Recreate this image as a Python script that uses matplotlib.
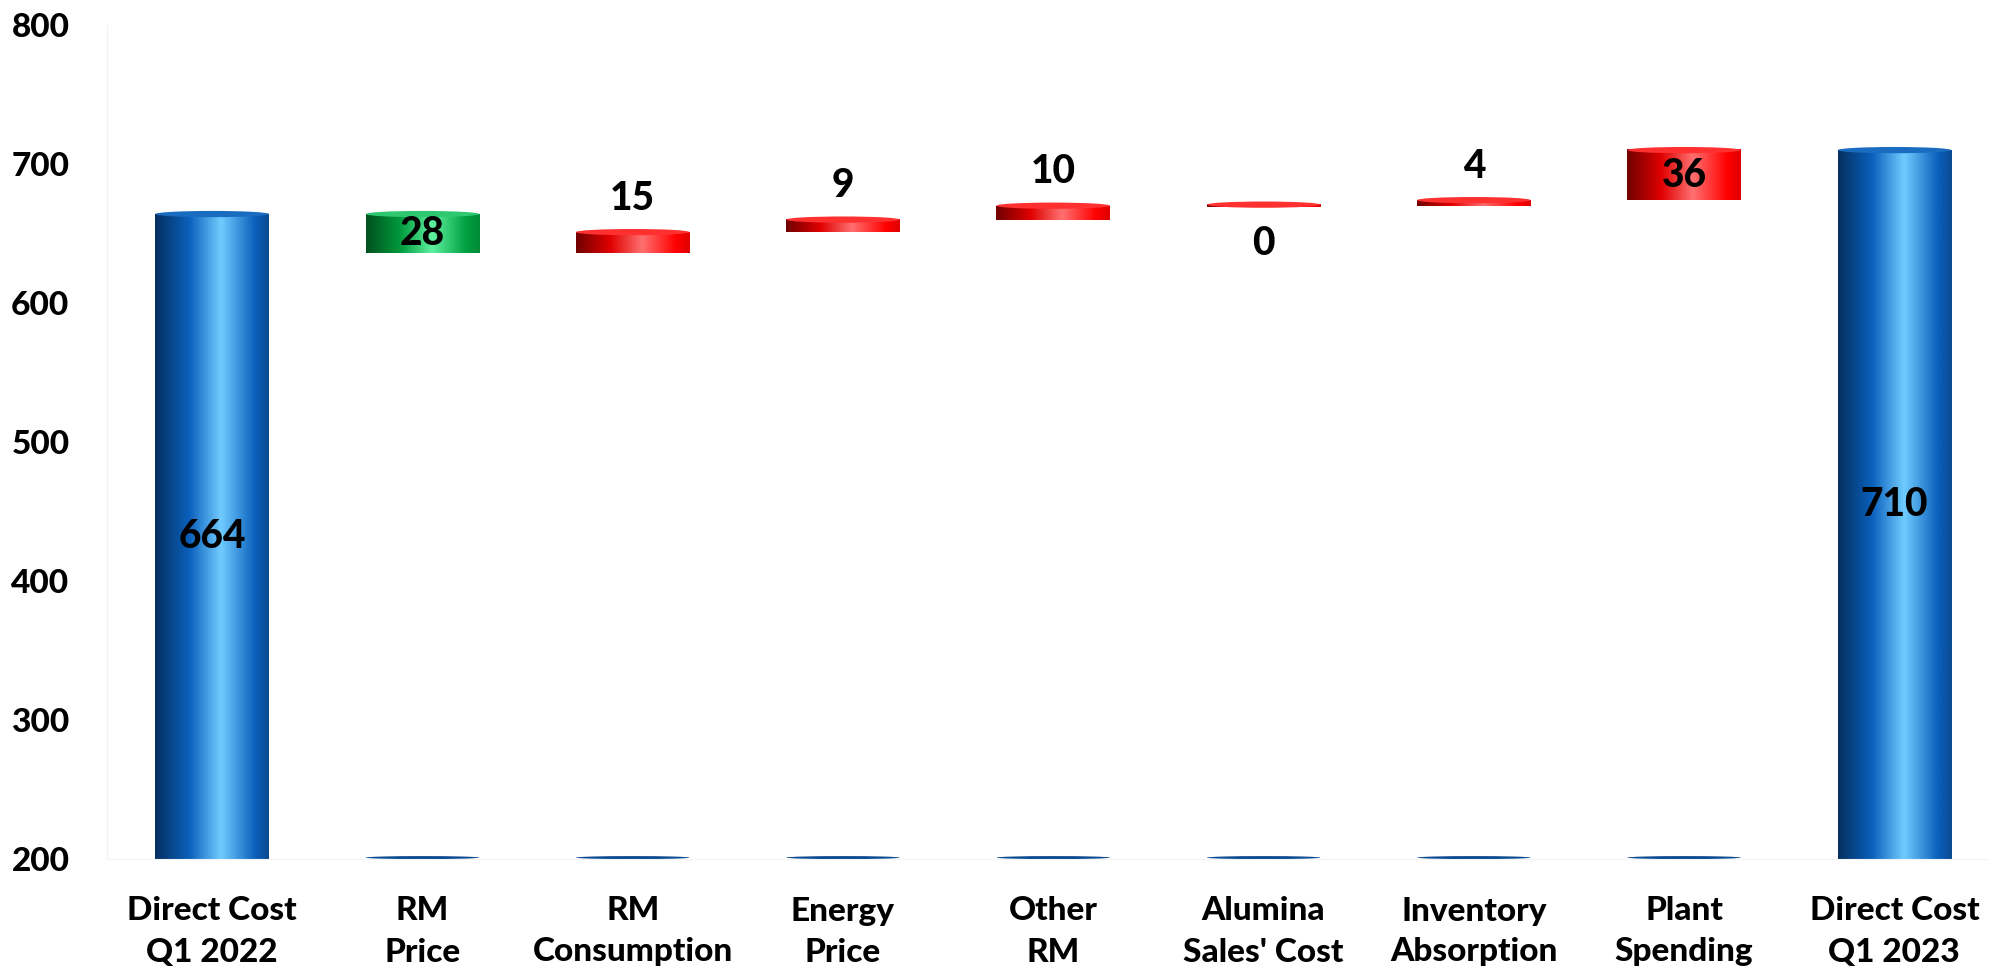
import numpy as np
import matplotlib
matplotlib.use("Agg")
from matplotlib import pyplot as plt
from matplotlib.colors import LinearSegmentedColormap
from matplotlib.patches import Ellipse

plt.rcParams['font.family'] = ['Lato', 'DejaVu Sans']
W = 900  # heavy weight, closer to the bold Calibri look

# data
categories = ["Direct Cost\nQ1 2022", "RM\nPrice", "RM\nConsumption", "Energy\nPrice",
              "Other\nRM", "Alumina\nSales' Cost", "Inventory\nAbsorption", "Plant\nSpending",
              "Direct Cost\nQ1 2023"]
start_total = 664
deltas = [-28, 15, 9, 10, 0, 4, 36]
end_total = 710

# cylinder-ish horizontal shading
stops = [0.0, 0.3, 0.58, 0.88, 1.0]
cmaps = {
    'blue': LinearSegmentedColormap.from_list('b', list(zip(stops, ['#05305f', '#0a60bc', '#70ccff', '#0a60bc', '#0a4a90']))),
    'red': LinearSegmentedColormap.from_list('r', list(zip(stops, ['#700000', '#e00000', '#ff7070', '#ff0000', '#e00000']))),
    'green': LinearSegmentedColormap.from_list('g', list(zip(stops, ['#00501e', '#009a3c', '#5ff0a0', '#00a040', '#008a38']))),
}
top_col = {'blue': '#1a6cc0', 'red': '#ff3030', 'green': '#2ec870'}
grad = np.linspace(0, 1, 256).reshape(1, -1)

fig = plt.figure(figsize=(19.89, 9.76), dpi=100)
ax = fig.add_axes([107 / 1989, 117 / 976, 1 - 107 / 1989, 834 / 976])

width = 0.54
ymin = 200


def cylinder(x, lo, hi, kind):
    ax.imshow(grad, cmap=cmaps[kind], extent=[x - width / 2, x + width / 2, lo, hi],
              aspect='auto', zorder=2, interpolation='bicubic')
    ax.add_patch(Ellipse((x, hi), width, 4.5, facecolor=top_col[kind],
                         edgecolor='none', zorder=3))


# totals
totals = [(0, start_total), (len(categories) - 1, end_total)]
for x, v in totals:
    cylinder(x, ymin, v, 'blue')
    ax.text(x, (ymin + v) / 2, f"{v}", ha='center', va='center', fontsize=28,
            fontweight=W, zorder=5)

# floating steps
level = start_total
for i, d in enumerate(deltas):
    x = i + 1
    lo, hi = min(level, level + d), max(level, level + d)
    kind = 'green' if d < 0 else 'red'
    if hi - lo < 1.5:
        lo, hi = lo - 0.75, hi + 0.75
    cylinder(x, lo, hi, kind)
    # base edge of the hidden bar
    ax.add_patch(Ellipse((x, ymin + 1), width, 2.2, facecolor='#0a4a90',
                         edgecolor='none', zorder=2))
    txt = f"{abs(d)}"
    if abs(d) >= 20:
        ax.text(x, (lo + hi) / 2, txt, ha='center', va='center', fontsize=28,
                fontweight=W, zorder=5)
    elif d == 0:
        ax.annotate(txt, (x, lo), xytext=(0, -13), textcoords='offset points',
                    ha='center', va='top', fontsize=28, fontweight=W)
    else:
        ax.annotate(txt, (x, hi), xytext=(0, 11), textcoords='offset points',
                    ha='center', va='bottom', fontsize=28, fontweight=W)
    level += d

ax.set_xlim(-0.5, 8.45)
ax.set_ylim(ymin, 800)
ax.set_yticks(range(200, 801, 100))
ax.set_xticks(range(len(categories)))
ax.set_xticklabels(categories, fontsize=24, fontweight=W, linespacing=1.5)
for lab in ax.get_yticklabels():
    lab.set_fontweight(W)
ax.tick_params(axis='y', length=0, pad=27, labelsize=24)
ax.tick_params(axis='x', length=0, pad=27)
for s in ['top', 'right']:
    ax.spines[s].set_visible(False)
ax.spines['left'].set_color('#f2f2f2')
ax.spines['bottom'].set_color('#f4f4f4')

plt.savefig('out.png', dpi=100)
